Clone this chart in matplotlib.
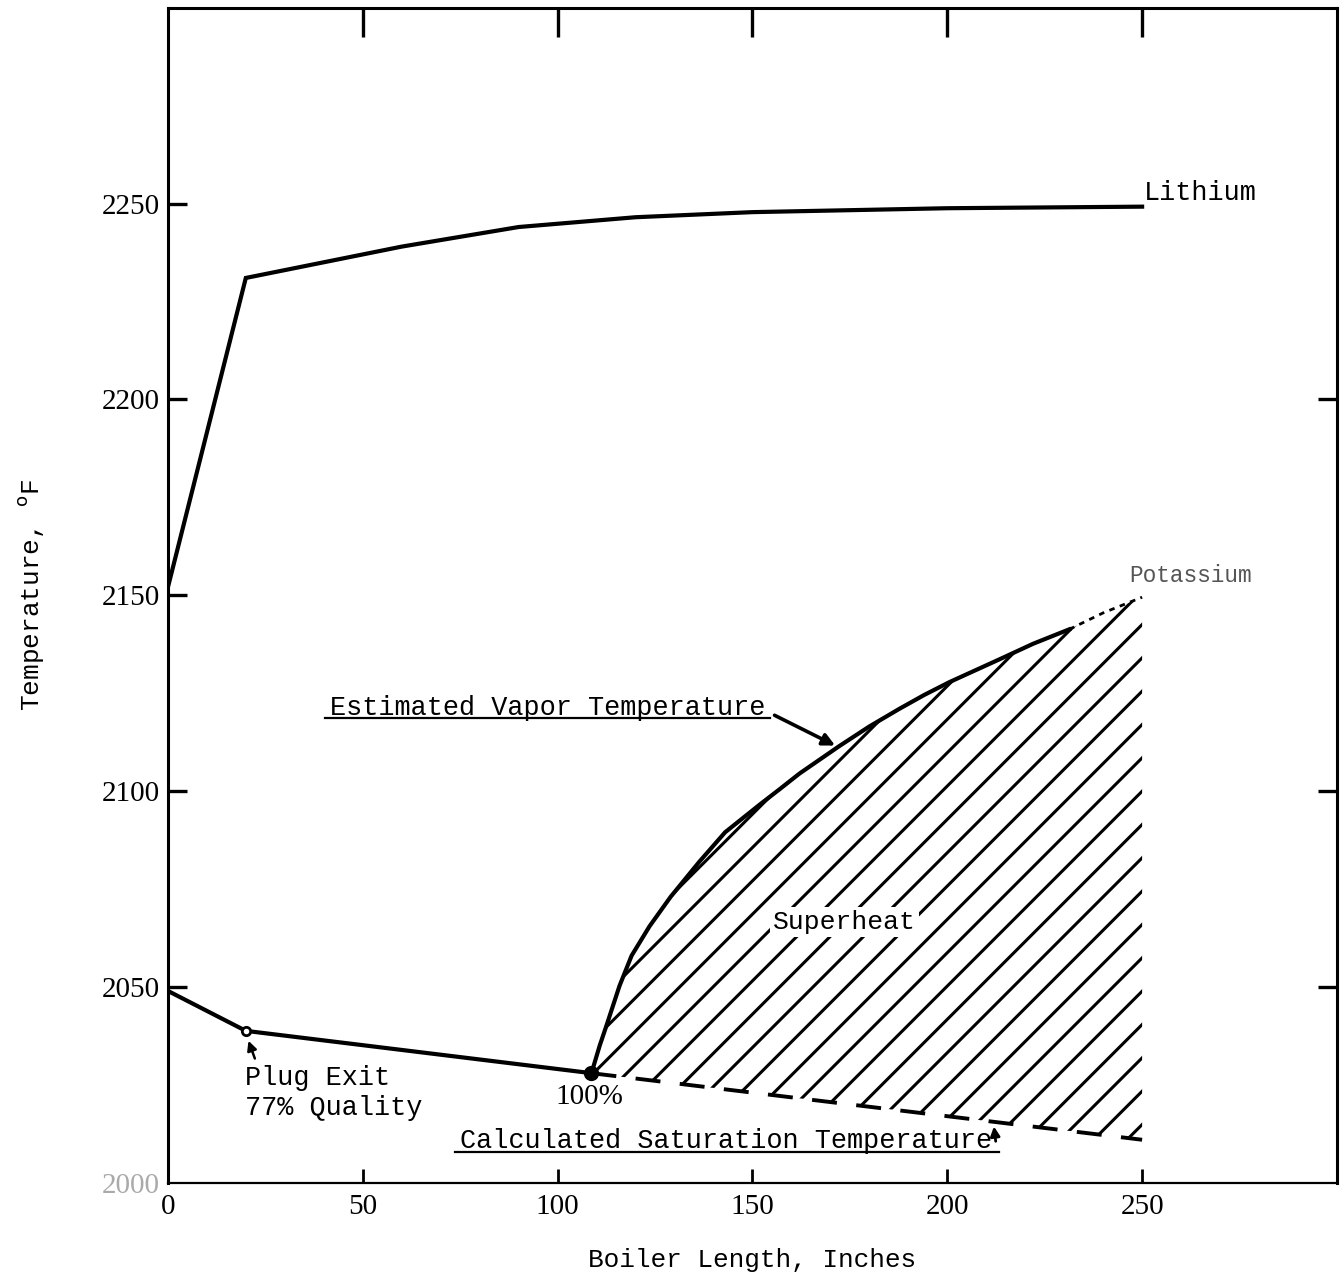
import numpy as np
import matplotlib
matplotlib.use("Agg")
import matplotlib.pyplot as plt

plt.rcParams['lines.scale_dashes'] = False
plt.rcParams['hatch.linewidth'] = 1.1

mono = 'Liberation Mono'
serif = 'Liberation Serif'

# lithium temperature along the boiler
li_x = [0, 20, 40, 60, 90, 120, 150, 200, 250]
li_y = [2152, 2231, 2235, 2239, 2244, 2246.5, 2247.8, 2248.8, 2249.2]

# potassium liquid (boiling) region
k_x = [0, 20, 108.7]
k_y = [2049, 2038.8, 2028]

# estimated vapor temperature (superheat region)
vap_x = [108.7, 110.8, 112.5, 115.9, 119, 123.6, 129, 136.4, 143, 151.8, 157,
         162.1, 172.3, 180, 187.7, 194, 200.5, 213.3, 222, 231.3]
vap_y = [2028, 2035, 2040, 2050.3, 2058, 2065.5, 2073, 2082, 2089.5, 2096.5, 2100.5,
         2104.5, 2111.5, 2116.5, 2121, 2124.5, 2127.8, 2133.6, 2137.6, 2141.3]
vap_end_x = [231.3, 240, 250]
vap_end_y = [2141.3, 2145.5, 2149.5]

# calculated saturation temperature
sat_x = [108.7, 250]
sat_y = [2028, 2011]

xticks = [0, 50, 100, 150, 200, 250]
yticks = [2000, 2050, 2100, 2150, 2200, 2250]

fig = plt.figure(figsize=(1343 / 200, 1276 / 200), dpi=200)
ax = fig.add_axes([0.125, 0.073, 0.8705, 0.921])
ax.set_xlim(0, 300)
ax.set_ylim(2000, 2300)

# curves
ax.plot(li_x, li_y, color='black', lw=1.5, solid_joinstyle='miter')
ax.plot(k_x, k_y, color='black', lw=1.5)
ax.plot(vap_x, vap_y, color='black', lw=1.5, solid_joinstyle='round')
ax.plot(vap_end_x, vap_end_y, color='black', lw=1.0, ls=(0, (2, 2)))
ax.plot(sat_x, sat_y, color='black', lw=1.4, ls=(0, (9, 7)))
ax.plot(k_x[1], k_y[1], 'o', ms=3, mfc='white', mec='black', mew=1)
ax.plot(k_x[2], k_y[2], 'o', ms=4.5, color='black')

# superheat hatching between saturation and vapor curves
hx = np.array(vap_x + vap_end_x[1:])
hy_top = np.array(vap_y + vap_end_y[1:])
hy_bot = np.interp(hx, sat_x, sat_y)
ax.fill_between(hx, hy_bot, hy_top, facecolor='none', edgecolor='black',
                hatch='//', linewidth=0)

# labels and annotations
ax.text(250.5, 2252.8, 'Lithium', family=mono, fontsize=9.7, va='center', ha='left')
ax.text(246.7, 2155.1, 'Potassium', family=mono, fontsize=8.2, va='center', ha='left',
        color='#555555')
ax.text(41.5, 2121.2, 'Estimated Vapor Temperature', family=mono, fontsize=9.7,
        va='center', ha='left')
ax.plot([40.3, 154.4], [2118.6, 2118.6], color='black', lw=0.8)
ax.annotate('', xy=(172.5, 2111), xytext=(154.4, 2120),
            arrowprops=dict(arrowstyle='-|>', color='black', lw=1.3,
                            mutation_scale=9))
ax.text(173.6, 2066.5, 'Superheat', family=mono, fontsize=9.5, va='center', ha='center',
        bbox=dict(facecolor='white', edgecolor='none', pad=1))
ax.text(19.7, 2026.8, 'Plug Exit', family=mono, fontsize=9.7, va='center', ha='left')
ax.text(19.7, 2019.0, '77% Quality', family=mono, fontsize=9.7, va='center', ha='left')
ax.annotate('', xy=(20.2, 2037.6), xytext=(22.8, 2030.4),
            arrowprops=dict(arrowstyle='-|>', color='black', lw=0.9,
                            mutation_scale=7))
ax.text(108.2, 2022.0, '100%', family=serif, fontsize=10.5, va='center', ha='center')
ax.text(74.9, 2010.6, 'Calculated Saturation Temperature', family=mono, fontsize=9.7,
        va='center', ha='left')
ax.plot([73.6, 213.3], [2008.0, 2008.0], color='black', lw=0.8)
ax.annotate('', xy=(211.8, 2015.8), xytext=(212.6, 2009.2),
            arrowprops=dict(arrowstyle='-|>', color='black', lw=1.0,
                            mutation_scale=7))

ax.set_xlabel('Boiler Length, Inches', family=mono, fontsize=9.4, labelpad=10)
ax.set_ylabel('Temperature, $^{\\mathrm{o}}$F', family=mono, fontsize=9.4, labelpad=20)

# ticks
ax.set_xticks(xticks)
ax.set_yticks(yticks)
ax.set_xticklabels([str(v) for v in xticks], family=serif, fontsize=10.5)
ax.set_yticklabels([str(v) for v in yticks], family=serif, fontsize=10.5)
ax.get_yticklabels()[0].set_color('#aaaaaa')
ax.tick_params(axis='x', direction='in', length=5, width=1.0, pad=4)
ax.tick_params(axis='y', direction='in', length=7, width=1.2, pad=3)
ax.xaxis.get_major_ticks()[0].tick1line.set_visible(False)
ax.yaxis.get_major_ticks()[0].tick1line.set_visible(False)

top = ax.secondary_xaxis('top')
top.set_xticks(xticks[1:])
top.tick_params(direction='in', length=10.5, width=1.2, labeltop=False)
top.spines['top'].set_visible(False)
right = ax.secondary_yaxis('right')
right.set_yticks([2050, 2100, 2200])
right.tick_params(direction='in', length=7, width=1.2, labelright=False)
right.spines['right'].set_visible(False)

for s in ['left', 'top', 'right']:
    ax.spines[s].set_linewidth(1.1)
ax.spines['bottom'].set_linewidth(0.8)

fig.savefig('out.png', dpi=200)
